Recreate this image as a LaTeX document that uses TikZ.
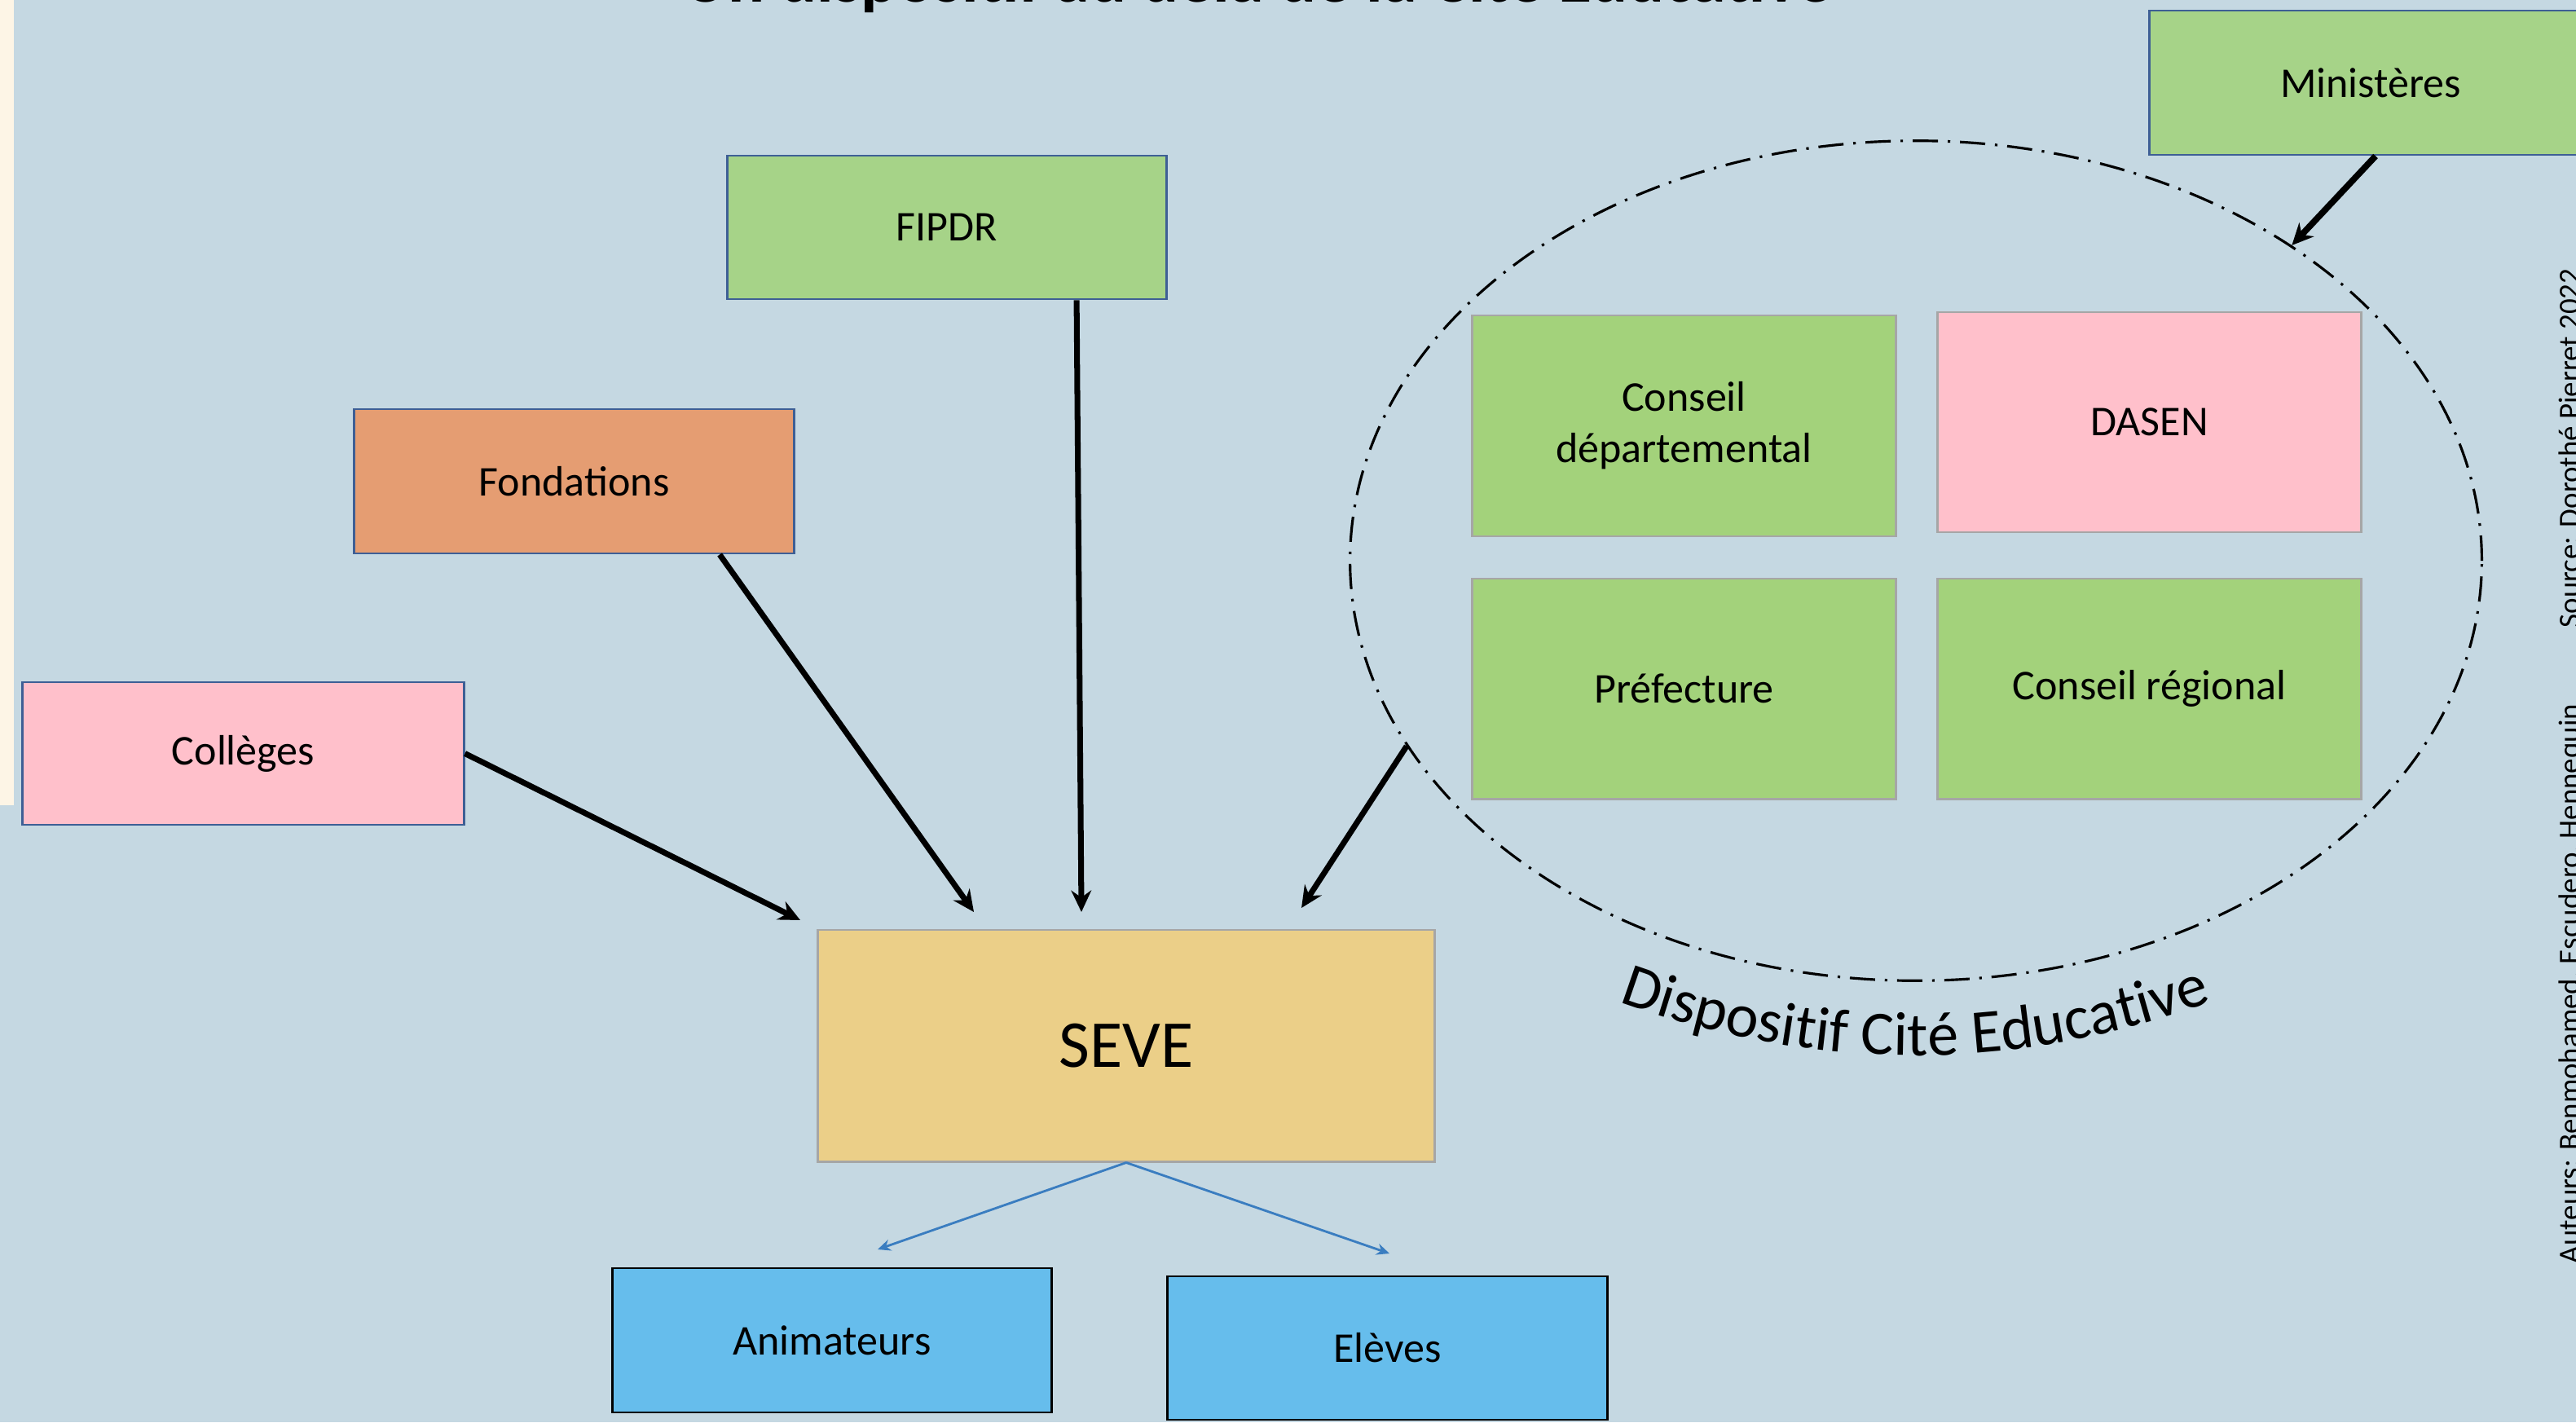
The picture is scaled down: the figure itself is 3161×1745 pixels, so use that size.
\documentclass[tikz,border=0pt]{standalone}
\usepackage{fontspec}
\setmainfont{Carlito}
\usetikzlibrary{shapes.geometric,arrows.meta,decorations.text,calc}
\definecolor{bgc}{HTML}{C5D8E2}
\definecolor{creamc}{HTML}{FDF5E6}
\definecolor{greenA}{HTML}{A6D388}
\definecolor{greenB}{HTML}{A3D27B}
\definecolor{orangeF}{HTML}{E59D72}
\definecolor{pinkc}{HTML}{FFC0CB}
\definecolor{sevec}{HTML}{EBCF88}
\definecolor{bluebox}{HTML}{66BDEC}
\definecolor{blueborder}{HTML}{3E5F95}
\definecolor{greyborder}{HTML}{A6A6A6}
\definecolor{arrowblue}{HTML}{3A7DC0}
\newcommand\boxfont{\fontsize{14.8}{17.9}\selectfont}
\newcommand\dispfont{\fontsize{21.6}{25}\selectfont}
\newcommand\sidefont{\fontsize{10.5}{12}\selectfont}
\tikzset{
  bx/.style={draw, line width=0.8pt, minimum width=5.39cm, minimum height=1.76cm, inner sep=0pt, align=center, font=\boxfont},
  bluebx/.style={bx, draw=blueborder},
  greybx/.style={bx, draw=greyborder, minimum width=5.19cm, minimum height=2.70cm},
  blackbx/.style={bx, draw=black, fill=bluebox},
  arr/.style={line width=2pt, -{Stealth[length=7.5pt, width=7pt]}},
  barr/.style={draw=arrowblue, line width=0.8pt, -{Stealth[length=4.5pt, width=4pt]}}
}
\begin{document}
\begin{tikzpicture}[x=0.01cm, y=-0.01cm]
\useasboundingbox (0,0) rectangle (3161,1745);
\clip (0,0) rectangle (3161,1745);
\fill[bgc] (0,0) rectangle (3161,1745);
\fill[creamc] (0,0) rectangle (17,988);

% title (cut off at top)
\node[anchor=base, inner sep=0pt, font=\bfseries\fontsize{23.9}{28}\selectfont] (title) at (1543,2) {Un dispositif au delà de la Cité Educative};

% side texts
\node[rotate=90, anchor=base, inner sep=0pt, font=\sidefont] (auteurs) at (3165,1207) {Auteurs: Benmohamed, Escudero, Hennequin};
\node[rotate=90, anchor=base, inner sep=0pt, font=\sidefont] (source) at (3165,550) {Source: Dorothé Pierret 2022};

% boxes
\node[bluebx, fill=pinkc, minimum width=5.41cm, minimum height=1.75cm] (coll) at (298.5,924.5) {Collèges};
\node[bluebx, fill=orangeF, minimum height=1.77cm] (fond) at (704.5,590.5) {Fondations};
\node[bluebx, fill=greenA] (fipdr) at (1162,279) {FIPDR};
\node[bluebx, fill=greenA, minimum width=5.42cm, minimum height=1.77cm] (mini) at (2909,101.5) {Ministères};

\node[bx, draw=greyborder, fill=sevec, minimum width=7.56cm, minimum height=2.84cm, font=\fontsize{23.4}{28}\selectfont] (seve) at (1382,1283) {SEVE};

\node[blackbx, minimum width=5.38cm, minimum height=1.77cm] (anim) at (1021,1644.5) {Animateurs};
\node[blackbx] (eleves) at (1702.5,1654) {Elèves};

% Cite educative
\node[draw, ellipse, line width=0.9pt, dash pattern=on 8.8pt off 3.4pt on 0.9pt off 3.4pt, minimum width=13.88cm, minimum height=10.30cm, inner sep=0pt] (cite) at (2351,688) {};
\node[greybx, fill=greenB, minimum height=2.71cm] (cdep) at (2066.5,522.5) {Conseil\\départemental};
\node[greybx, fill=pinkc] (dasen) at (2637.5,518) {DASEN};
\node[greybx, fill=greenB] (pref) at (2066.5,845) {Préfecture};
\node[greybx, fill=greenB] (creg) at (2637.5,845) {Conseil régional};

\path[decorate, decoration={text along path, text align=center, text={|\dispfont|Dispositif Cité Educative}}]
  (1995,1232) .. controls (2230,1316) and (2470,1316) .. (2705,1232);

% arrow tips
\coordinate (tipC) at (982,1129);
\coordinate (tipF) at (1195,1119);
\coordinate (tipP) at (1327,1119);
\coordinate (tipE) at (1597,1114);
\coordinate (tipA) at (1077,1533);
\coordinate (tipL) at (1705,1538);

\draw[arr] (coll.east) -- (tipC);
\draw[arr] ([xshift=1.785cm]fond.south) -- (tipF);
\draw[arr] ([xshift=1.59cm]fipdr.south) -- (tipP);
\draw[arr] (cite.200) -- (tipE);
\draw[arr, line width=2.2pt] ([xshift=0.06cm]mini.south) -- (cite.40);

\draw[barr] (seve.south) -- (tipA);
\draw[barr] (seve.south) -- (tipL);
\end{tikzpicture}
\end{document}
